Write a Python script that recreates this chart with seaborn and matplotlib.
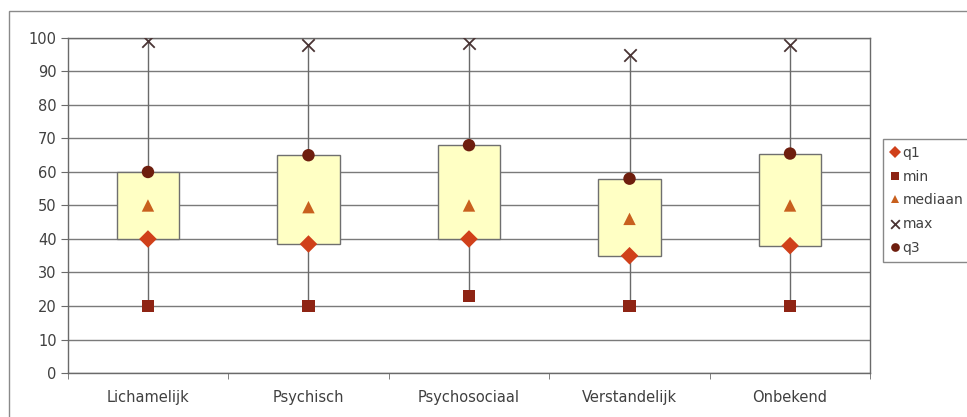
import matplotlib
matplotlib.use("Agg")
import matplotlib.pyplot as plt
import matplotlib.patches as mpatches
import numpy as np
import seaborn as sns
import pandas as pd

categories = ['Lichamelijk', 'Psychisch', 'Psychosociaal', 'Verstandelijk', 'Onbekend']
q1 = [40, 38.5, 40, 35, 38]
minimum = [20, 20, 23, 20, 20]
mediaan = [50, 49.5, 50, 46, 50]
maximum = [99, 98, 98.5, 95, 98]
q3 = [60, 65, 68, 58, 65.5]

stats = {'q1': q1, 'min': minimum, 'mediaan': mediaan, 'max': maximum, 'q3': q3}
rows = []
for name, vals in stats.items():
    for i, v in enumerate(vals):
        rows.append([i, name, v])
df = pd.DataFrame(rows, columns=['pos', 'stat', 'waarde'])

palette = {'q1': '#D0401A', 'min': '#8E2414', 'mediaan': '#C8601E',
           'max': '#4A3434', 'q3': '#6E1E0E'}
markers = {'q1': 'D', 'min': 's', 'mediaan': '^', 'q3': 'o'}
order = ['q1', 'min', 'mediaan', 'max', 'q3']

sns.set_style('white')
plt.rcParams['font.family'] = ['DejaVu Sans']

fig = plt.figure(figsize=(9.67, 4.17), dpi=100)
ax = fig.add_axes([0.070, 0.1055, 0.830, 0.8035])

x = np.arange(len(categories))
# whiskers behind the boxes
ax.vlines(x, minimum, maximum, color='#6a6a6a', lw=1, zorder=2)
ax.bar(x, np.array(q3) - np.array(q1), bottom=q1, width=0.39,
       color='#FFFFC4', edgecolor='#6f6f6f', linewidth=1, zorder=3)

filled = df[df['stat'] != 'max']
sns.scatterplot(data=filled, x='pos', y='waarde', hue='stat', style='stat',
                hue_order=['q1', 'min', 'mediaan', 'q3'], style_order=['q1', 'min', 'mediaan', 'q3'],
                palette=palette, markers=markers, s=80, linewidth=0,
                zorder=5, ax=ax)
sns.scatterplot(data=df[df['stat'] == 'max'], x='pos', y='waarde', marker='x',
                color=palette['max'], s=80, linewidth=1.3, label='max', zorder=5, ax=ax)

ax.set_xlim(-0.5, 4.5)
ax.set_ylim(0, 100)
ax.set_yticks(range(0, 101, 10))
ax.set_xticks(x)
ax.set_xticklabels(categories)
ax.set_xticks(np.arange(-0.5, 4.6, 1), minor=True)
ax.tick_params(axis='x', which='major', length=0, pad=12, labelsize=10.5, labelcolor='#404040')
ax.tick_params(axis='x', which='minor', length=4, direction='out', color='#6a6a6a')
ax.tick_params(axis='y', length=5, direction='out', color='#6a6a6a', labelsize=10.5,
               labelcolor='#404040', pad=3)
ax.tick_params(bottom=True, left=True, which='both')
ax.yaxis.grid(True, color='#7a7a7a', lw=1)
ax.set_axisbelow(True)
ax.set_xlabel('')
ax.set_ylabel('')
for sp in ax.spines.values():
    sp.set_color('#6a6a6a')
    sp.set_linewidth(1)

handles, labels = ax.get_legend_handles_labels()
lookup = dict(zip(labels, handles))
handles = [lookup[k] for k in order]
ax.legend(handles, order, loc='upper left', bbox_to_anchor=(0.913, 0.667),
          bbox_transform=fig.transFigure, frameon=True, fancybox=False,
          edgecolor='#6a6a6a', fontsize=10, labelspacing=0.7, handletextpad=0.1,
          borderpad=0.5, markerscale=0.7, handlelength=0.8, labelcolor='#404040',
          borderaxespad=0)

fig.add_artist(mpatches.Rectangle((9 / 967, -0.05), 1.1, 0.974 + 0.05,
                                  transform=fig.transFigure, fill=False,
                                  edgecolor='#8a8a8a', lw=1, clip_on=False))

fig.savefig('out.png', dpi=100)
